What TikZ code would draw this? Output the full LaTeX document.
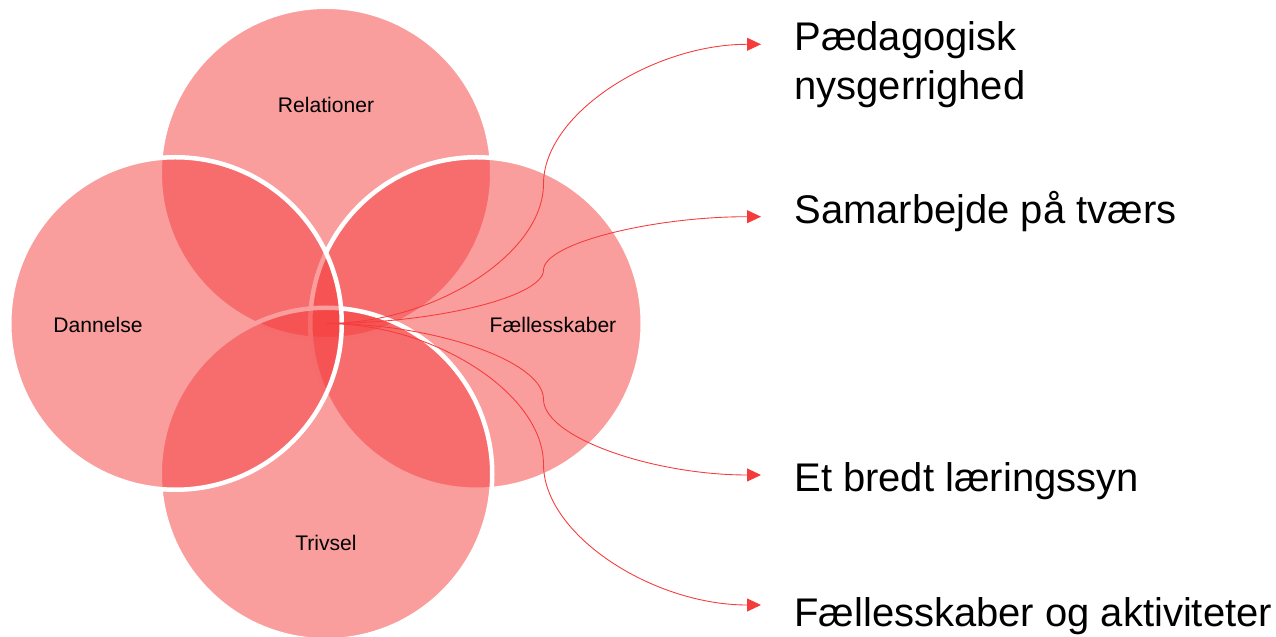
\documentclass[tikz,border=0pt]{standalone}
\usepackage{fontspec}
\setmainfont{Liberation Sans}
\usetikzlibrary{arrows.meta,calc}
\definecolor{petalred}{RGB}{245,60,60}

\begin{document}
\begin{tikzpicture}[
	petal/.style={draw=white, line width=0.09cm, fill=petalred, fill opacity=0.5},
	lbl/.style={font=\fontsize{12}{14}\selectfont},
	item/.style={anchor=base west, inner sep=0pt, align=left, font=\fontsize{22.75}{27.6}\selectfont},
	link/.style={draw=petalred, line width=0.5pt, -{Triangle[length=2.8mm,width=2.6mm]}}
	]
	\useasboundingbox (-6.52,-6.27) rectangle (19.0,6.47);
	
	% circles, back to front
	\draw[petal] (0,3.01) circle [radius=3.325];
	\draw[petal] (3.01,0) circle [radius=3.325];
	\draw[petal] (0,-3.01) circle [radius=3.325];
	\draw[petal] (-3.01,0) circle [radius=3.325];
	
	\node[lbl] (relationer) at (0,4.37) {Relationer};
	\node[lbl] (dannelse) at (-4.56,-0.03) {Dannelse};
	\node[lbl] (faelles) at (4.54,-0.03) {Fællesskaber};
	\node[lbl] (trivsel) at (0,-4.39) {Trivsel};
	
	\node[item] (nysgerrig) at (9.36,4.484) {Pædagogisk\\nysgerrighed};
	\node[item] (samarbejde) at (9.36,2.0) {Samarbejde på tværs};
	\node[item] (laering) at (9.36,-3.37) {Et bredt læringssyn};
	\node[item] (aktiviteter) at (9.36,-6.07) {Fællesskaber og aktiviteter};
	
	\coordinate (hub) at (0,0);
	\coordinate (tipA) at (8.7,5.584);
	\coordinate (tipB) at (8.7,2.136);
	\coordinate (tipC) at (8.7,-3.03);
	\coordinate (tipD) at (8.7,-5.63);
	
	% curved connectors, split at half way
	\foreach \tip in {tipA,tipB,tipC,tipD}
		\draw[link] let \p1=(hub), \p2=(\tip) in
			(\p1) .. controls ({\x1+(\x2-\x1)/4},\y1) and ({(\x1+\x2)/2},{\y1+(\y2-\y1)/4}) .. ({(\x1+\x2)/2},{(\y1+\y2)/2})
			.. controls ({(\x1+\x2)/2},{\y1+3*(\y2-\y1)/4}) and ({\x1+3*(\x2-\x1)/4},\y2) .. (\p2);
\end{tikzpicture}
\end{document}
